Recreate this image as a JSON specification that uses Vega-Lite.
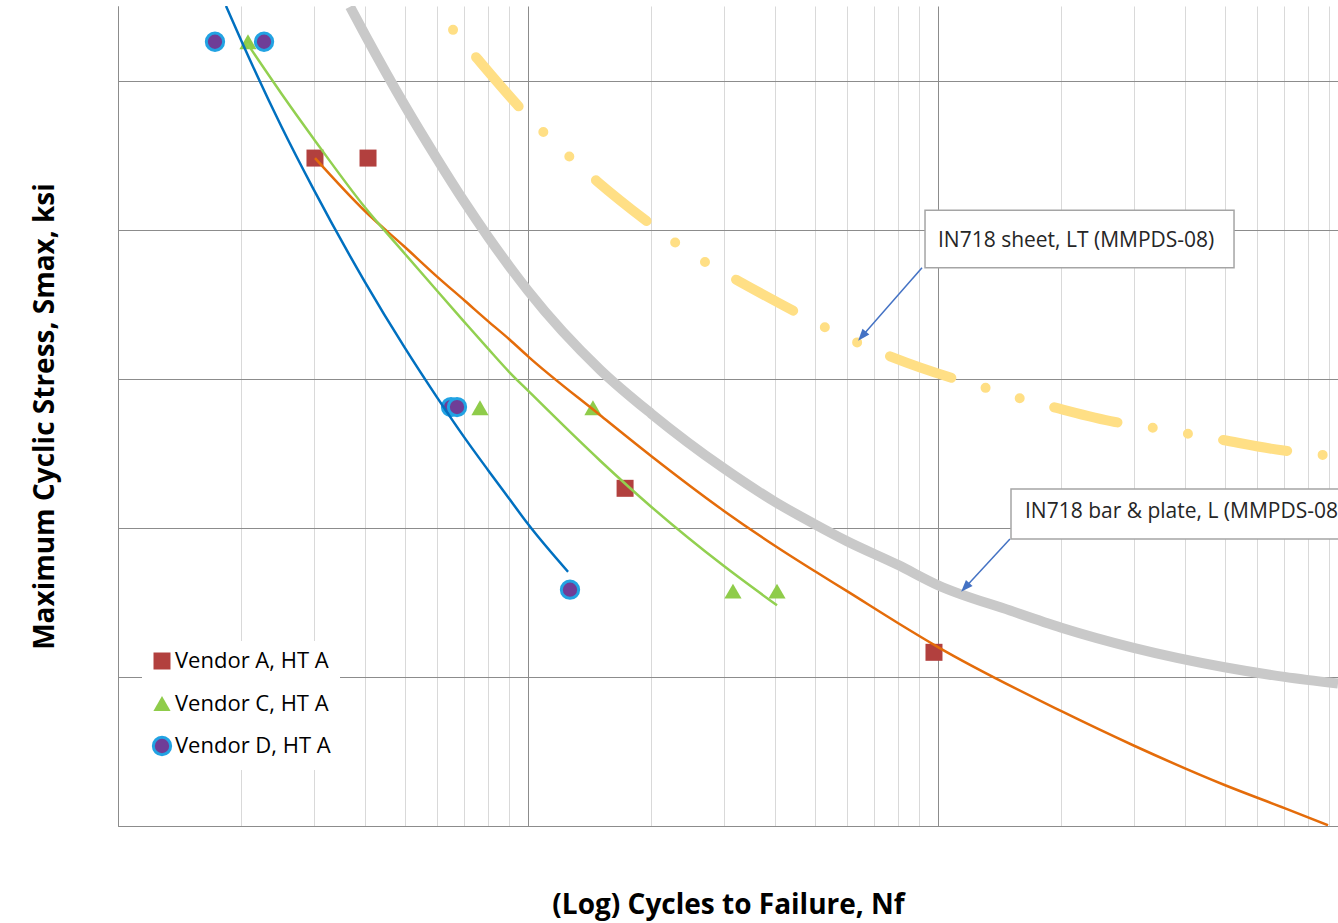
{
  "$schema": "https://vega.github.io/schema/vega-lite/v6.json",
  "width": 1220,
  "height": 820,
  "autosize": {"type": "none"},
  "padding": {"left": 118, "top": 6, "right": 0, "bottom": 97},
  "background": "#ffffff",
  "config": {
    "view": {"stroke": null},
    "font": "Open Sans",
    "legend": {
      "labelFont": "Open Sans",
      "labelFontSize": 22,
      "labelColor": "#000000",
      "fillColor": "#ffffff",
      "padding": 9,
      "rowPadding": 13.5,
      "labelOffset": 2,
      "symbolStrokeWidth": 3
    }
  },
  "datasets": {
    "tests": [
      {"vendor": "Vendor A, HT A", "cycles": 3023, "stress": 129.6},
      {"vendor": "Vendor A, HT A", "cycles": 4072, "stress": 129.6},
      {"vendor": "Vendor A, HT A", "cycles": 17250, "stress": 85.3},
      {"vendor": "Vendor A, HT A", "cycles": 97770, "stress": 63.3},
      {"vendor": "Vendor C, HT A", "cycles": 2075, "stress": 145.2},
      {"vendor": "Vendor C, HT A", "cycles": 7636, "stress": 96.1},
      {"vendor": "Vendor C, HT A", "cycles": 14400, "stress": 96.1},
      {"vendor": "Vendor C, HT A", "cycles": 31620, "stress": 71.5},
      {"vendor": "Vendor C, HT A", "cycles": 40490, "stress": 71.5},
      {"vendor": "Vendor D, HT A", "cycles": 1724, "stress": 145.2},
      {"vendor": "Vendor D, HT A", "cycles": 2271, "stress": 145.2},
      {"vendor": "Vendor D, HT A", "cycles": 6490, "stress": 96.2},
      {"vendor": "Vendor D, HT A", "cycles": 6712, "stress": 96.2},
      {"vendor": "Vendor D, HT A", "cycles": 12660, "stress": 71.7}
    ],
    "fitA": [
      {"cycles": 3023, "stress": 129.6},
      {"cycles": 4000, "stress": 122.5},
      {"cycles": 5000, "stress": 117.7},
      {"cycles": 6000, "stress": 113.7},
      {"cycles": 7000, "stress": 110.5},
      {"cycles": 8000, "stress": 107.7},
      {"cycles": 9000, "stress": 105.3},
      {"cycles": 10000, "stress": 103.0},
      {"cycles": 15000, "stress": 95.1},
      {"cycles": 20000, "stress": 89.6},
      {"cycles": 30000, "stress": 82.3},
      {"cycles": 40000, "stress": 77.6},
      {"cycles": 50000, "stress": 74.2},
      {"cycles": 60000, "stress": 71.5},
      {"cycles": 80000, "stress": 67.2},
      {"cycles": 100000, "stress": 64.0},
      {"cycles": 200000, "stress": 55.4},
      {"cycles": 300000, "stress": 50.8},
      {"cycles": 500000, "stress": 45.5},
      {"cycles": 700000, "stress": 42.4},
      {"cycles": 894000, "stress": 40.1}
    ],
    "fitC": [
      {"cycles": 2064, "stress": 145.0},
      {"cycles": 2500, "stress": 138.3},
      {"cycles": 3000, "stress": 132.2},
      {"cycles": 4000, "stress": 123.0},
      {"cycles": 5000, "stress": 116.8},
      {"cycles": 6000, "stress": 111.8},
      {"cycles": 7000, "stress": 107.6},
      {"cycles": 8000, "stress": 104.0},
      {"cycles": 9000, "stress": 100.9},
      {"cycles": 10000, "stress": 98.4},
      {"cycles": 15000, "stress": 89.0},
      {"cycles": 20000, "stress": 82.8},
      {"cycles": 30000, "stress": 74.9},
      {"cycles": 40490, "stress": 69.6}
    ],
    "fitD": [
      {"cycles": 1834, "stress": 150.0},
      {"cycles": 2000, "stress": 145.3},
      {"cycles": 2500, "stress": 133.9},
      {"cycles": 3000, "stress": 125.4},
      {"cycles": 4000, "stress": 113.0},
      {"cycles": 5000, "stress": 104.2},
      {"cycles": 6000, "stress": 97.5},
      {"cycles": 7000, "stress": 92.1},
      {"cycles": 8000, "stress": 87.7},
      {"cycles": 9000, "stress": 83.9},
      {"cycles": 10000, "stress": 80.5},
      {"cycles": 12520, "stress": 74.1}
    ],
    "barPlate": [
      {"cycles": 3681, "stress": 149.9},
      {"cycles": 4000, "stress": 146.2},
      {"cycles": 5000, "stress": 136.7},
      {"cycles": 6000, "stress": 129.5},
      {"cycles": 7000, "stress": 123.7},
      {"cycles": 8000, "stress": 119.0},
      {"cycles": 9000, "stress": 115.1},
      {"cycles": 10000, "stress": 111.8},
      {"cycles": 15000, "stress": 101.2},
      {"cycles": 20000, "stress": 95.3},
      {"cycles": 30000, "stress": 88.0},
      {"cycles": 40000, "stress": 83.5},
      {"cycles": 50000, "stress": 80.5},
      {"cycles": 60000, "stress": 78.2},
      {"cycles": 80000, "stress": 75.0},
      {"cycles": 100000, "stress": 72.3},
      {"cycles": 150000, "stress": 68.9},
      {"cycles": 200000, "stress": 66.6},
      {"cycles": 300000, "stress": 63.9},
      {"cycles": 500000, "stress": 61.3},
      {"cycles": 700000, "stress": 60.0},
      {"cycles": 945400, "stress": 59.1}
    ],
    "sheet": [
      {"cycles": 6564, "stress": 146.8},
      {"cycles": 7508, "stress": 143.0},
      {"cycles": 9506, "stress": 136.5},
      {"cycles": 10940, "stress": 133.0},
      {"cycles": 12730, "stress": 129.6},
      {"cycles": 14730, "stress": 126.5},
      {"cycles": 19620, "stress": 121.0},
      {"cycles": 23090, "stress": 118.1},
      {"cycles": 27480, "stress": 115.4},
      {"cycles": 32890, "stress": 113.0},
      {"cycles": 44790, "stress": 109.0},
      {"cycles": 53920, "stress": 106.7},
      {"cycles": 64540, "stress": 104.7},
      {"cycles": 77240, "stress": 102.9},
      {"cycles": 108200, "stress": 100.1},
      {"cycles": 130200, "stress": 98.8},
      {"cycles": 157600, "stress": 97.4},
      {"cycles": 190800, "stress": 96.2},
      {"cycles": 270200, "stress": 94.2},
      {"cycles": 327000, "stress": 93.5},
      {"cycles": 398100, "stress": 92.7},
      {"cycles": 481900, "stress": 91.9},
      {"cycles": 690300, "stress": 90.4},
      {"cycles": 835600, "stress": 89.9},
      {"cycles": 945400, "stress": 89.5}
    ],
    "callouts": [
      {"name": "sheet", "label": "IN718 sheet, LT (MMPDS-08)", "cycles": 92970, "cycles2": 527250, "stress": 122.6, "stress2": 114.9, "textCycles": 100000, "textStress": 117.7},
      {"name": "barPlate", "label": "IN718 bar & plate, L (MMPDS-08)", "cycles": 150680, "cycles2": 2000000, "stress": 85.2, "stress2": 78.5, "textCycles": 163000, "textStress": 81.3}
    ],
    "arrows": [
      {"name": "sheet", "cycles": 91410, "stress": 114.9, "cycles2": 65270, "stress2": 105.7},
      {"name": "barPlate", "cycles": 149800, "stress": 78.5, "cycles2": 116500, "stress2": 72.0}
    ]
  },
  "encoding": {
    "x": {
      "field": "cycles",
      "type": "quantitative",
      "scale": {"type": "log", "domain": [1000, 945400], "nice": false},
      "axis": {
        "values": [1000, 2000, 3000, 4000, 5000, 6000, 7000, 8000, 9000, 10000, 20000, 30000, 40000, 50000, 60000, 70000, 80000, 90000, 100000, 200000, 300000, 400000, 500000, 600000, 700000, 800000, 900000],
        "labels": false,
        "ticks": false,
        "domain": true,
        "domainColor": "#8c8c8c",
        "domainWidth": 1,
        "grid": true,
        "gridColor": {"condition": {"test": "datum.value === 1000 || datum.value === 10000 || datum.value === 100000", "value": "#8c8c8c"}, "value": "#d9d9d9"},
        "gridWidth": 1,
        "title": "(Log) Cycles to Failure, Nf",
        "titleFont": "Open Sans",
        "titleFontSize": 28,
        "titleFontWeight": "bold",
        "titleColor": "#000000",
        "titleBaseline": "alphabetic",
        "titleY": 87
      }
    },
    "y": {
      "field": "stress",
      "type": "quantitative",
      "scale": {"domain": [40, 150], "nice": false, "zero": false},
      "axis": {
        "values": [40, 60, 80, 100, 120, 140],
        "labels": false,
        "ticks": false,
        "domain": true,
        "domainColor": "#8c8c8c",
        "domainWidth": 1,
        "grid": true,
        "gridColor": "#8c8c8c",
        "gridWidth": 1,
        "title": "Maximum Cyclic Stress, Smax, ksi",
        "titleFont": "Open Sans",
        "titleFontSize": 28,
        "titleFontWeight": "bold",
        "titleColor": "#000000",
        "titleBaseline": "alphabetic",
        "titleX": -65
      }
    }
  },
  "layer": [
    {
      "data": {"name": "barPlate"},
      "mark": {"type": "line", "color": "#c9c9c9", "strokeWidth": 10, "interpolate": "monotone", "clip": true}
    },
    {
      "data": {"name": "sheet"},
      "mark": {"type": "line", "color": "#ffdf85", "strokeWidth": 10, "strokeCap": "round", "strokeDash": [65, 35.7, 0, 35.7, 0, 35.7], "strokeDashOffset": 136.4, "interpolate": "monotone", "clip": true}
    },
    {
      "data": {"name": "tests"},
      "mark": {"type": "point", "filled": true, "opacity": 1, "strokeWidth": 3},
      "encoding": {
        "shape": {"field": "vendor", "type": "nominal", "scale": {"domain": ["Vendor A, HT A", "Vendor C, HT A", "Vendor D, HT A"], "range": ["square", "triangle-up", "circle"]}, "legend": {"title": null, "orient": "none", "legendX": 24, "legendY": 635}},
        "fill": {"field": "vendor", "type": "nominal", "scale": {"domain": ["Vendor A, HT A", "Vendor C, HT A", "Vendor D, HT A"], "range": ["#b2403e", "#8fcc4a", "#6f3d97"]}, "legend": {"title": null, "orient": "none", "legendX": 24, "legendY": 635}},
        "stroke": {"field": "vendor", "type": "nominal", "scale": {"domain": ["Vendor A, HT A", "Vendor C, HT A", "Vendor D, HT A"], "range": ["transparent", "transparent", "#22a3e3"]}, "legend": {"title": null, "orient": "none", "legendX": 24, "legendY": 635}},
        "size": {"field": "vendor", "type": "nominal", "scale": {"domain": ["Vendor A, HT A", "Vendor C, HT A", "Vendor D, HT A"], "range": [289, 300, 196]}, "legend": {"title": null, "orient": "none", "legendX": 24, "legendY": 635}}
      }
    },
    {
      "data": {"name": "fitA"},
      "mark": {"type": "line", "color": "#e46c0a", "strokeWidth": 2.5, "interpolate": "monotone", "clip": true}
    },
    {
      "data": {"name": "fitC"},
      "mark": {"type": "line", "color": "#92d050", "strokeWidth": 2.5, "interpolate": "monotone", "clip": true}
    },
    {
      "data": {"name": "fitD"},
      "mark": {"type": "line", "color": "#0070c0", "strokeWidth": 2.5, "interpolate": "monotone", "clip": true}
    },
    {
      "data": {"name": "arrows"},
      "mark": {"type": "rule", "color": "#4472c4", "strokeWidth": 1.5},
      "encoding": {
        "x2": {"field": "cycles2"},
        "y2": {"field": "stress2"}
      }
    },
    {
      "data": {"name": "arrows"},
      "transform": [{"filter": "datum.name === 'sheet'"}],
      "mark": {"type": "point", "shape": "M0,-1L0.75,1L-0.75,1Z", "filled": true, "opacity": 1, "color": "#4472c4", "size": 144, "angle": 220.4},
      "encoding": {
        "x": {"field": "cycles2", "type": "quantitative"},
        "y": {"field": "stress2", "type": "quantitative"}
      }
    },
    {
      "data": {"name": "arrows"},
      "transform": [{"filter": "datum.name === 'barPlate'"}],
      "mark": {"type": "point", "shape": "M0,-1L0.75,1L-0.75,1Z", "filled": true, "opacity": 1, "color": "#4472c4", "size": 144, "angle": 222.8},
      "encoding": {
        "x": {"field": "cycles2", "type": "quantitative"},
        "y": {"field": "stress2", "type": "quantitative"}
      }
    },
    {
      "data": {"name": "callouts"},
      "mark": {"type": "rect", "fill": "#ffffff", "stroke": "#a5a5a5", "strokeWidth": 1.5, "clip": true},
      "encoding": {
        "x2": {"field": "cycles2"},
        "y2": {"field": "stress2"}
      }
    },
    {
      "data": {"name": "callouts"},
      "mark": {"type": "text", "font": "Open Sans", "fontSize": 21, "align": "left", "baseline": "alphabetic", "color": "#262626"},
      "encoding": {
        "x": {"field": "textCycles", "type": "quantitative"},
        "y": {"field": "textStress", "type": "quantitative"},
        "text": {"field": "label"}
      }
    }
  ]
}
